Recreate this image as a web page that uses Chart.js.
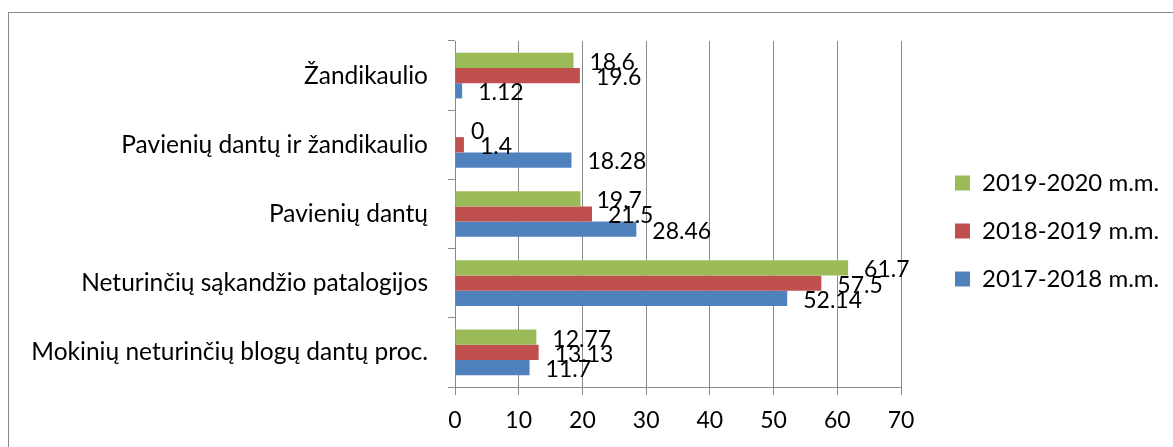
<!DOCTYPE html>
<html>
<head>
<meta charset="utf-8">
<script src="https://cdn.jsdelivr.net/npm/chart.js@4.4.0/dist/chart.umd.min.js"></script>
<style>
html, body { margin: 0; padding: 0; background: #fff; overflow: hidden; width: 1173px; height: 447px; }
#frame { position: absolute; left: 8px; top: 12px; width: 1250px; height: 500px; border-left: 1px solid #8a8a8a; border-top: 1px solid #8a8a8a; }
#myChart { position: absolute; left: 9px; top: 13px; }
</style>
</head>
<body>
<div id="frame"></div>
<canvas id="myChart" width="1164" height="434"></canvas>
<script>
// duomenys
const categories = [
    'Žandikaulio',
    'Pavienių dantų ir žandikaulio',
    'Pavienių dantų',
    'Neturinčių sąkandžio patalogijos',
    'Mokinių neturinčių blogų dantų proc.'
];
const seriesNames = ['2019-2020 m.m.', '2018-2019 m.m.', '2017-2018 m.m.'];
const values2019 = [18.6, 0, 19.7, 61.7, 12.77];
const values2018 = [19.6, 1.4, 21.5, 57.5, 13.13];
const values2017 = [1.12, 18.28, 28.46, 52.14, 11.7];
const xTicks = [0, 10, 20, 30, 40, 50, 60, 70];

const colors = ['#9BBB59', '#C0504D', '#4F81BD'];
const fontName = 'Lato';
const catFont = 24.5;
const numFont = 23;
const legendFont = 24;

Chart.defaults.font.family = fontName;
Chart.defaults.color = '#000';

// legendos plotis, kad grafiko sritis baigtųsi ties 70
const mctx = document.createElement('canvas').getContext('2d');
mctx.font = legendFont + 'px ' + fontName;
const legendPad = 24;
const legendTextW = Math.max(...seriesNames.map(s => mctx.measureText(s).width));
const legendW = legendPad + 15 + legendFont / 2 + legendTextW + 10;
const plotRight = 892;
const gapW = 30;
const padRight = 1164 - plotRight - gapW - legendW;

// reikšmių užrašai prie stulpelių
const valueLabels = {
    id: 'valueLabels',
    afterDatasetsDraw(chart) {
        const ctx = chart.ctx;
        ctx.save();
        ctx.font = numFont + 'px ' + fontName;
        ctx.fillStyle = '#000';
        ctx.textAlign = 'left';
        ctx.textBaseline = 'middle';
        chart.data.datasets.forEach((ds, i) => {
            chart.getDatasetMeta(i).data.forEach((bar, j) => {
                ctx.fillText(String(ds.data[j]), bar.x + 16, bar.y + 2);
            });
        });
        ctx.restore();
    }
};

// legendą pakelti
const legendNudge = {
    id: 'legendNudge',
    afterLayout(chart) {
        chart.legend.top -= 13;
        chart.legend.bottom -= 13;
    }
};

const ctx = document.getElementById('myChart').getContext('2d');
const myChart = new Chart(ctx, {
    type: 'bar',
    data: {
        labels: categories,
        datasets: [
            { label: seriesNames[0], data: values2019, backgroundColor: colors[0] },
            { label: seriesNames[1], data: values2018, backgroundColor: colors[1] },
            { label: seriesNames[2], data: values2017, backgroundColor: colors[2] }
        ]
    },
    options: {
        indexAxis: 'y',
        responsive: false,
        animation: false,
        devicePixelRatio: 1,
        categoryPercentage: 0.66,
        barPercentage: 1.0,
        layout: { padding: { top: 28, bottom: 0, left: 10, right: padRight } },
        plugins: {
            tooltip: { enabled: false },
            legend: {
                position: 'right',
                align: 'center',
                maxWidth: 400,
                labels: { boxWidth: 15, boxHeight: 15, padding: legendPad, color: '#000', font: { size: legendFont } }
            }
        },
        scales: {
            x: {
                min: 0,
                max: 70,
                afterBuildTicks: s => { s.ticks = xTicks.map(v => ({ value: v })); },
                afterFit: s => { s.paddingLeft = 0; s.paddingRight = 0; },
                grid: { color: '#8a8a8a', tickLength: 8 },
                border: { color: '#8a8a8a' },
                ticks: { padding: 12.2, color: '#000', font: { size: numFont } }
            },
            y: {
                afterFit: s => { s.width = 436; s.paddingTop = 0; s.paddingBottom = 0; },
                grid: { drawOnChartArea: false, color: '#8a8a8a', tickLength: 7 },
                border: { color: '#8a8a8a' },
                ticks: { padding: 20, color: '#000', autoSkip: false, font: { size: catFont } }
            },
            gap: {
                type: 'category',
                axis: 'y',
                position: 'right',
                grid: { display: false },
                border: { display: false },
                ticks: { display: false },
                afterFit: s => { s.width = gapW; }
            }
        }
    },
    plugins: [valueLabels, legendNudge]
});
</script>
</body>
</html>
